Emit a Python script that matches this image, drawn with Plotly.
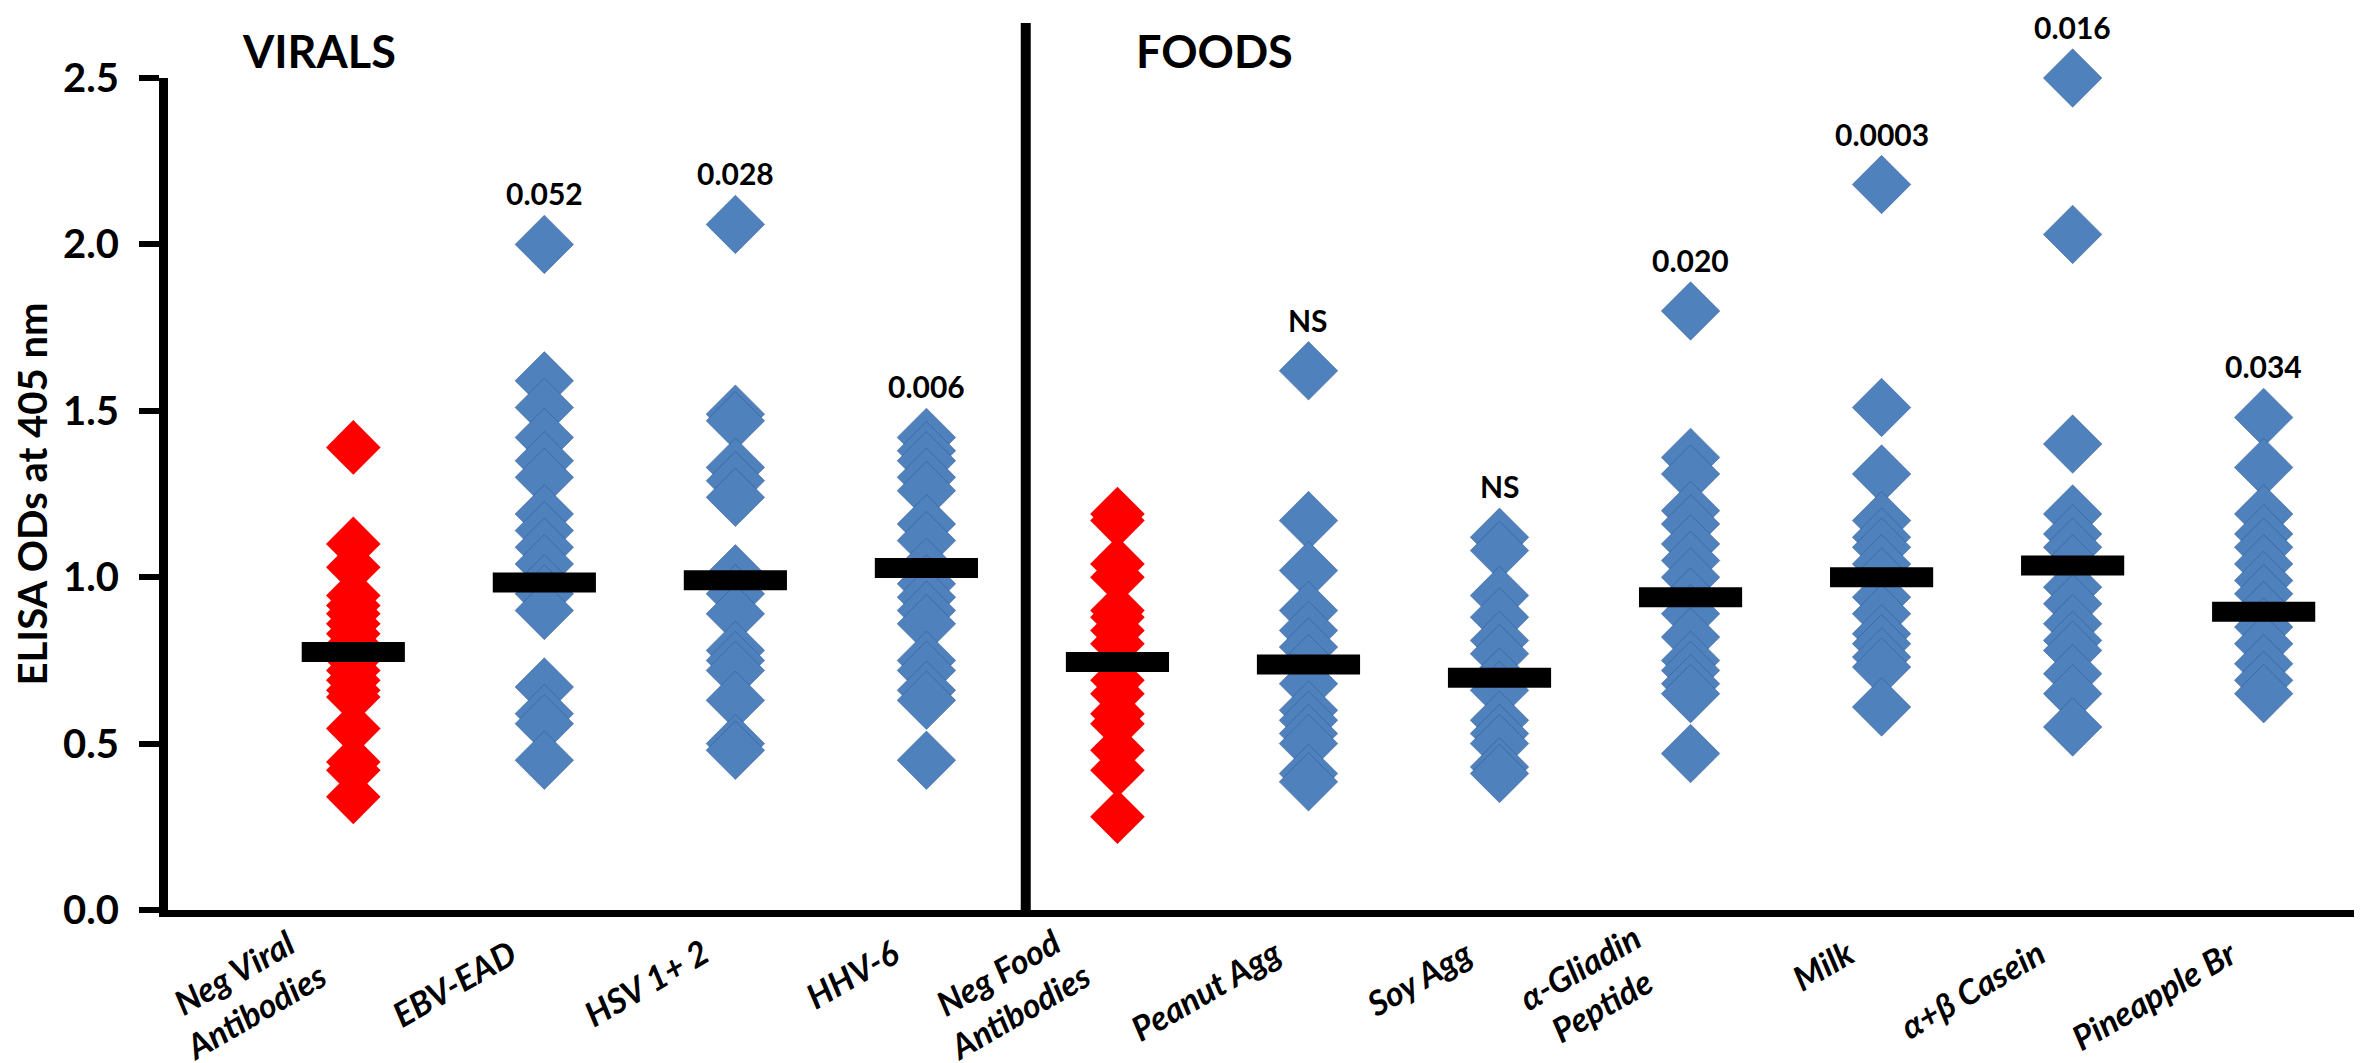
import plotly.graph_objects as go

# Categories (x order) and the group each belongs to
categories = ["Neg Viral<br>Antibodies", "EBV-EAD", "HSV 1+ 2", "HHV-6",
              "Neg Food<br>Antibodies", "Peanut Agg", "Soy Agg",
              "α-Gliadin<br>Peptide", "Milk", "α+β Casein", "Pineapple Br"]
is_negative = [True, False, False, False, True, False, False, False, False,
               False, False]

# ELISA ODs at 405 nm, one list per category
neg_viral = [1.39, 1.10, 1.03, 0.945, 0.915, 0.89, 0.86, 0.83, 0.80, 0.77,
             0.75, 0.72, 0.69, 0.66, 0.64, 0.545, 0.445, 0.42, 0.34]
ebv_ead = [2.00, 1.59, 1.51, 1.42, 1.35, 1.30, 1.19, 1.14, 1.09, 1.04, 0.98,
           0.95, 0.90, 0.67, 0.59, 0.56, 0.45]
hsv = [2.06, 1.49, 1.47, 1.33, 1.29, 1.24, 1.01, 0.95, 0.89, 0.78, 0.75,
       0.72, 0.63, 0.50, 0.48]
hhv6 = [1.42, 1.38, 1.35, 1.30, 1.26, 1.16, 1.11, 1.03, 0.98, 0.94, 0.90,
        0.86, 0.75, 0.72, 0.66, 0.63, 0.45]
neg_food = [1.19, 1.17, 1.04, 1.00, 0.90, 0.88, 0.84, 0.80, 0.75, 0.69, 0.65,
            0.59, 0.56, 0.48, 0.42, 0.28]
peanut = [1.62, 1.17, 1.02, 0.90, 0.84, 0.79, 0.74, 0.68, 0.60, 0.57, 0.53,
          0.50, 0.41, 0.385]
soy = [1.12, 1.08, 0.945, 0.88, 0.81, 0.77, 0.70, 0.66, 0.57, 0.53, 0.50,
       0.43, 0.41]
gliadin = [1.80, 1.36, 1.31, 1.20, 1.16, 1.10, 1.05, 1.00, 0.94, 0.89, 0.82,
           0.75, 0.72, 0.68, 0.65, 0.47]
milk = [2.18, 1.51, 1.31, 1.17, 1.12, 1.09, 1.04, 1.00, 0.94, 0.89, 0.83,
        0.80, 0.76, 0.73, 0.61]
casein = [2.50, 2.03, 1.40, 1.19, 1.13, 1.09, 1.04, 0.97, 0.92, 0.86, 0.81,
          0.78, 0.71, 0.65, 0.55]
pineapple = [1.48, 1.33, 1.19, 1.13, 1.09, 1.04, 0.99, 0.95, 0.90, 0.85,
             0.80, 0.74, 0.69, 0.65]

all_values = [neg_viral, ebv_ead, hsv, hhv6, neg_food, peanut, soy, gliadin,
              milk, casein, pineapple]

# Black bars (group centre values) and p-value labels
medians = [0.775, 0.984, 0.991, 1.028, 0.745, 0.738, 0.698, 0.94, 1.0,
           1.035, 0.896]
p_labels = ["", "0.052", "0.028", "0.006", "", "NS", "NS", "0.020", "0.0003",
            "0.016", "0.034"]

blue = "#4F81BD"
red = "#FF0000"
font_name = "Lato"

fig = go.Figure()

# Diamonds, one trace per category
for i, vals in enumerate(all_values):
    pos = i + 1
    if is_negative[i]:
        marker = dict(symbol="diamond", size=42, color=red,
                      line=dict(width=0))
    else:
        marker = dict(symbol="diamond", size=45, color=blue,
                      line=dict(width=1, color="rgba(40,80,140,0.45)"))
    fig.add_trace(go.Scatter(x=[pos] * len(vals), y=vals, mode="markers",
                             marker=marker, showlegend=False,
                             cliponaxis=False))

# Median bars drawn on top
half = 0.27
for i, m in enumerate(medians):
    pos = i + 1
    fig.add_trace(go.Scatter(x=[pos - half, pos + half], y=[m, m],
                             mode="lines",
                             line=dict(color="black", width=20),
                             showlegend=False))

# p-values above the highest point in each column
for i, lab in enumerate(p_labels):
    if lab == "":
        continue
    fig.add_annotation(x=i + 1, y=max(all_values[i]), text=lab,
                       showarrow=False, yshift=51, yanchor="middle",
                       font=dict(family=font_name, size=30, color="black",
                                 weight="bold"))

# Slanted category labels under the axis (right end near the category);
# two-line labels sit a little closer to the axis, as in the original
for i, cat in enumerate(categories):
    two_lines = "<br>" in cat
    fig.add_annotation(x=i + 1, y=0, xref="x", yref="paper", text=cat,
                       showarrow=False, textangle=-30, align="center",
                       xanchor="right", yanchor="top", xshift=-18,
                       yshift=-3 if two_lines else -18,
                       font=dict(family=font_name, size=34, color="black",
                                 weight="bold", style="italic"))

# Group headers
fig.add_annotation(x=0.82, y=1.032, xref="x", yref="paper", text="VIRALS",
                   showarrow=False, yanchor="middle",
                   font=dict(family=font_name, size=45, color="black",
                             weight="bold"))
fig.add_annotation(x=5.51, y=1.032, xref="x", yref="paper", text="FOODS",
                   showarrow=False, yanchor="middle",
                   font=dict(family=font_name, size=45, color="black",
                             weight="bold"))

# Divider between the viral and food groups
fig.add_shape(type="line", xref="x", yref="paper", x0=4.52, x1=4.52,
              y0=0, y1=1.066, line=dict(color="black", width=10))

fig.update_layout(
    width=2362, height=1063,
    margin=dict(l=160, r=7, t=70, b=161),
    plot_bgcolor="white", paper_bgcolor="white",
    font=dict(family=font_name, color="black"),
    xaxis=dict(range=[0.03, 11.52], showticklabels=False, ticks="",
               showgrid=False, zeroline=False, automargin=False,
               showline=True, linecolor="black", linewidth=7),
    yaxis=dict(range=[0, 2.5], dtick=0.5, tickformat=".1f",
               showgrid=False, zeroline=False, automargin=False,
               showline=True, linecolor="black", linewidth=9,
               ticks="outside", ticklen=20, tickwidth=6, tickcolor="black",
               ticklabelstandoff=12,
               tickfont=dict(family=font_name, size=40, color="black",
                             weight="bold"),
               title=dict(text="ELISA ODs at 405 nm", standoff=14,
                          font=dict(family=font_name, size=40,
                                    color="black", weight="bold"))),
)

fig.write_html("out.html")
